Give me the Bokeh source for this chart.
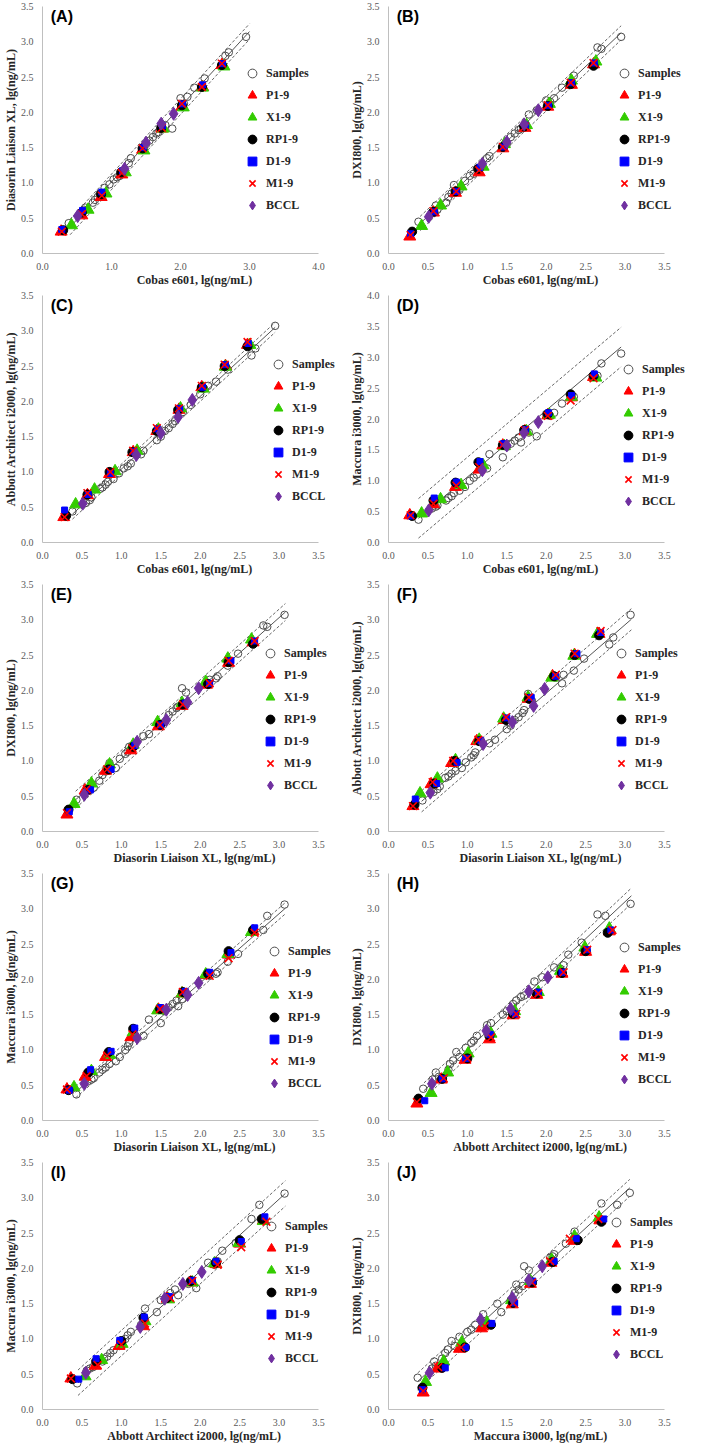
import numpy as np
from bokeh.plotting import figure
from bokeh.layouts import gridplot
from bokeh.models import Range1d, Label, FixedTicker, NumeralTickFormatter
from bokeh.embed import file_html
from bokeh.resources import INLINE

# ---------------- data (lg ng/mL) ----------------
# Patient samples measured on each platform
S_cobas    = [0.38, 0.55, 0.60, 0.62, 0.73, 0.76, 0.80, 0.83, 0.90, 0.97, 1.03, 1.08, 1.12, 1.25, 1.28, 1.45,
              1.50, 1.55, 1.60, 1.65, 1.68, 1.78, 1.88, 2.00, 2.05, 2.10, 2.20, 2.35, 2.65, 2.70, 2.95]
S_diasorin = [0.43, 0.57, 0.62, 0.65, 0.72, 0.76, 0.80, 0.85, 0.93, 0.98, 1.05, 1.08, 1.10, 1.28, 1.35, 1.50,
              1.55, 1.60, 1.65, 1.70, 1.72, 1.82, 1.77, 2.20, 2.12, 2.22, 2.35, 2.48, 2.80, 2.85, 3.07]
S_dxi      = [0.45, 0.58, 0.68, 0.62, 0.72, 0.80, 0.85, 0.97, 0.90, 1.03, 1.10, 1.13, 1.20, 1.35, 1.38, 1.50,
              1.55, 1.65, 1.70, 1.75, 1.77, 1.97, 2.03, 2.17, 2.15, 2.20, 2.35, 2.52, 2.92, 2.90, 3.07]
S_abbott   = [0.44, 0.56, 0.60, 0.64, 0.76, 0.78, 0.82, 0.86, 0.90, 0.98, 1.05, 1.08, 1.12, 1.25, 1.30, 1.45,
              1.50, 1.58, 1.62, 1.68, 1.72, 1.85, 1.95, 2.10, 2.18, 2.22, 2.28, 2.45, 2.65, 2.75, 3.07]
S_maccura  = [0.37, 0.55, 0.58, 0.60, 0.68, 0.72, 0.75, 0.80, 0.84, 0.90, 1.00, 1.05, 1.10, 1.20, 1.43, 1.38,
              1.55, 1.60, 1.65, 1.70, 1.62, 1.78, 1.72, 2.08, 2.05, 2.10, 2.25, 2.36, 2.70, 2.90, 3.06]

# Control materials P1-9
P_cobas    = [0.27, 0.57, 0.85, 1.15, 1.45, 1.73, 2.02, 2.32, 2.60]
P_diasorin = [0.31, 0.54, 0.80, 1.12, 1.47, 1.77, 2.08, 2.36, 2.67]
P_dxi      = [0.24, 0.58, 0.86, 1.15, 1.49, 1.78, 2.08, 2.39, 2.68]
P_abbott   = [0.36, 0.67, 0.97, 1.28, 1.58, 1.88, 2.20, 2.50, 2.80]
P_maccura  = [0.44, 0.62, 0.90, 1.18, 1.57, 1.80, 2.06, 2.35, 2.68]
# X1-9
X_cobas    = [0.42, 0.66, 0.92, 1.20, 1.47, 1.75, 2.04, 2.32, 2.63]
X_diasorin = [0.40, 0.62, 0.85, 1.15, 1.46, 1.77, 2.07, 2.35, 2.65]
X_dxi      = [0.39, 0.68, 0.95, 1.23, 1.55, 1.82, 2.12, 2.45, 2.72]
X_abbott   = [0.54, 0.75, 1.01, 1.30, 1.60, 1.90, 2.18, 2.49, 2.80]
X_maccura  = [0.47, 0.70, 0.93, 1.25, 1.56, 1.80, 2.07, 2.36, 2.67]
# RP1-9
RP_cobas    = [0.30, 0.57, 0.85, 1.14, 1.45, 1.72, 2.02, 2.31, 2.60]
RP_diasorin = [0.33, 0.58, 0.84, 1.15, 1.49, 1.78, 2.10, 2.36, 2.67]
RP_dxi      = [0.31, 0.59, 0.88, 1.20, 1.51, 1.80, 2.09, 2.40, 2.66]
RP_abbott   = [0.38, 0.68, 1.00, 1.28, 1.58, 1.88, 2.20, 2.50, 2.78]
RP_maccura  = [0.43, 0.68, 0.97, 1.30, 1.58, 1.82, 2.08, 2.40, 2.70]
# D1-9
D_cobas    = [0.28, 0.58, 0.86, 1.16, 1.46, 1.74, 2.03, 2.32, 2.61]
D_diasorin = [0.34, 0.61, 0.87, 1.17, 1.50, 1.81, 2.12, 2.39, 2.69]
D_dxi      = [0.28, 0.59, 0.88, 1.22, 1.51, 1.82, 2.10, 2.42, 2.70]
D_abbott   = [0.46, 0.68, 0.98, 1.29, 1.61, 1.90, 2.20, 2.52, 2.82]
D_maccura  = [0.43, 0.72, 0.98, 1.31, 1.60, 1.83, 2.10, 2.38, 2.73]
# M1-9
M_cobas    = [0.28, 0.57, 0.86, 1.15, 1.45, 1.73, 2.02, 2.31, 2.60]
M_diasorin = [0.31, 0.56, 0.82, 1.14, 1.49, 1.78, 2.12, 2.36, 2.69]
M_dxi      = [0.26, 0.60, 0.88, 1.18, 1.51, 1.80, 2.10, 2.42, 2.70]
M_abbott   = [0.36, 0.70, 1.00, 1.30, 1.62, 1.90, 2.22, 2.52, 2.84]
M_maccura  = [0.44, 0.63, 0.92, 1.22, 1.58, 1.82, 2.05, 2.30, 2.66]
# BCCL
B_cobas    = [0.51, 1.19, 1.50, 1.72, 1.90]
B_diasorin = [0.53, 1.20, 1.57, 1.84, 1.98]
B_dxi      = [0.52, 1.27, 1.58, 1.83, 2.03]
B_abbott   = [0.55, 1.24, 1.55, 1.78, 2.02]
B_maccura  = [0.52, 1.17, 1.57, 1.78, 1.95]

PLATFORM_NAMES = {
    "cobas": "Cobas e601, lg(ng/mL)",
    "diasorin": "Diasorin Liaison XL, lg(ng/mL)",
    "dxi": "DXI800, lg(ng/mL)",
    "abbott": "Abbott Architect i2000, lg(ng/mL)",
    "maccura": "Maccura i3000, lg(ng/mL)",
}

PANEL_LABELS = ["(A)", "(B)", "(C)", "(D)", "(E)", "(F)", "(G)", "(H)", "(I)", "(J)"]
PANEL_X = ["cobas", "cobas", "cobas", "cobas", "diasorin", "diasorin", "diasorin", "abbott", "abbott", "maccura"]
PANEL_Y = ["diasorin", "dxi", "abbott", "maccura", "dxi", "abbott", "maccura", "dxi", "maccura", "dxi"]
X_MAX = [4.0, 3.5, 3.5, 3.5, 3.5, 3.5, 3.5, 3.5, 3.5, 3.5]
Y_MAX = [3.5, 3.5, 3.5, 4.0, 3.5, 3.5, 3.5, 3.5, 3.5, 3.5]
X_STEP = [1.0, 0.5, 0.5, 0.5, 0.5, 0.5, 0.5, 0.5, 0.5, 0.5]

# regression line and prediction band per panel
FIT_SLOPE = [1.065, 1.06, 1.03, 1.08, 1.00, 0.97, 0.98, 1.05, 1.02, 1.02]
FIT_INTERCEPT = [-0.05, 0.00, 0.01, -0.02, 0.03, 0.02, -0.01, -0.05, -0.08, 0.02]
FIT_BAND = [0.11, 0.10, 0.07, 0.32, 0.12, 0.15, 0.08, 0.11, 0.18, 0.12]
FIT_X0 = [0.40, 0.40, 0.38, 0.38, 0.42, 0.42, 0.42, 0.45, 0.45, 0.37]
FIT_X1 = [3.00, 2.95, 2.95, 2.95, 3.08, 3.08, 3.08, 3.08, 3.08, 3.06]

# legend offsets (px within plot frame)
LEG_X = [199, 225, 225, 229, 217, 222, 221, 225, 218, 217]
LEG_Y = [37, 37, 35, 30, 35, 35, 26, 30, 40, 44]

# ---------------- build ----------------
data = {}
for plat in ["cobas", "diasorin", "dxi", "abbott", "maccura"]:
    data[plat] = {
        "Samples": globals()["S_" + plat],
        "P1-9": globals()["P_" + plat],
        "X1-9": globals()["X_" + plat],
        "RP1-9": globals()["RP_" + plat],
        "D1-9": globals()["D_" + plat],
        "M1-9": globals()["M_" + plat],
        "BCCL": globals()["B_" + plat],
    }

SERIF = "Liberation Serif"
SANS = "Liberation Sans"

STYLES = [
    ("Samples", dict(marker="circle", size=7.5, fill_color=None, line_color="#4d4d4d", line_width=1)),
    ("P1-9", dict(marker="triangle", size=12, fill_color="#ff0000", line_color="#ff0000")),
    ("X1-9", dict(marker="triangle", size=12, fill_color="#33cc00", line_color="#33cc00")),
    ("RP1-9", dict(marker="circle", size=9, fill_color="#000000", line_color="#000000")),
    ("D1-9", dict(marker="square", size=6, fill_color="#0000ff", line_color="#0000ff")),
    ("M1-9", dict(marker="x", size=11, line_color="#ff0000", line_width=1.6)),
    ("BCCL", dict(marker="diamond", size=13, fill_color="#7030a0", line_color="#7030a0")),
]

FIG_W, FIG_H = 346, 289
BL, BR, BT, BB = 42, 0, 6, 30
FRAME_W = FIG_W - BL - BR
AXIS_PX = 276  # pixel length of the visible x axis

figs = []
for i in range(10):
    xm, ym = X_MAX[i], Y_MAX[i]
    p = figure(width=FIG_W, height=FIG_H, x_range=Range1d(0, xm * FRAME_W / AXIS_PX), y_range=Range1d(0, ym),
               output_backend="svg", toolbar_location=None,
               min_border_left=BL, min_border_right=BR, min_border_top=BT, min_border_bottom=BB)
    p.grid.visible = False
    p.outline_line_color = None
    p.background_fill_color = "white"

    p.xaxis.ticker = FixedTicker(ticks=list(np.arange(0, xm + 1e-6, X_STEP[i])))
    p.yaxis.ticker = FixedTicker(ticks=list(np.arange(0, ym + 1e-6, 0.5)))
    p.xaxis.bounds = (0, xm)
    for ax in (p.xaxis, p.yaxis):
        ax.formatter = NumeralTickFormatter(format="0.0")
        ax.axis_line_color = "#bfbfbf"
        ax.axis_line_width = 1
        ax.major_tick_line_color = None
        ax.minor_tick_line_color = None
        ax.major_label_text_font = SERIF
        ax.major_label_text_font_size = "10px"
        ax.major_label_text_color = "#595959"
        ax.major_label_standoff = 3
        ax.axis_label_text_font = SERIF
        ax.axis_label_text_font_style = "bold"
        ax.axis_label_text_font_size = "12px"
        ax.axis_label_text_color = "#262626"
        ax.axis_label_standoff = 0
    p.xaxis.axis_label = PLATFORM_NAMES[PANEL_X[i]]
    p.yaxis.axis_label = PLATFORM_NAMES[PANEL_Y[i]]

    xs = np.array([FIT_X0[i], FIT_X1[i]])
    yfit = FIT_SLOPE[i] * xs + FIT_INTERCEPT[i]
    p.line(xs, yfit, line_color="#404040", line_width=0.9)
    p.line(xs, yfit + FIT_BAND[i], line_color="#404040", line_width=0.8, line_dash="3 2")
    p.line(xs, yfit - FIT_BAND[i], line_color="#404040", line_width=0.8, line_dash="3 2")

    xd, yd = data[PANEL_X[i]], data[PANEL_Y[i]]
    for name, st in STYLES:
        p.scatter(xd[name], yd[name], legend_label=name, **st)

    lg = p.legend[0]
    lg.location = (LEG_X[i], LEG_Y[i])
    lg.background_fill_alpha = 0
    lg.border_line_color = None
    lg.label_text_font = SERIF
    lg.label_text_font_style = "bold"
    lg.label_text_font_size = "12px"
    lg.label_text_color = "#262626"
    lg.glyph_width = 22
    lg.glyph_height = 22
    lg.label_height = 22
    lg.spacing = 0
    lg.padding = 0
    lg.margin = 0
    lg.label_standoff = 3

    p.add_layout(Label(x=0.03 * xm, y=ym * 0.995, text=PANEL_LABELS[i], text_font=SANS,
                       text_font_style="bold", text_font_size="16px", text_color="#000000",
                       text_baseline="top", text_align="left"))
    figs.append(p)

grid = gridplot(figs, ncols=2, toolbar_location=None)
open("out.html", "w").write(file_html(grid, INLINE))
